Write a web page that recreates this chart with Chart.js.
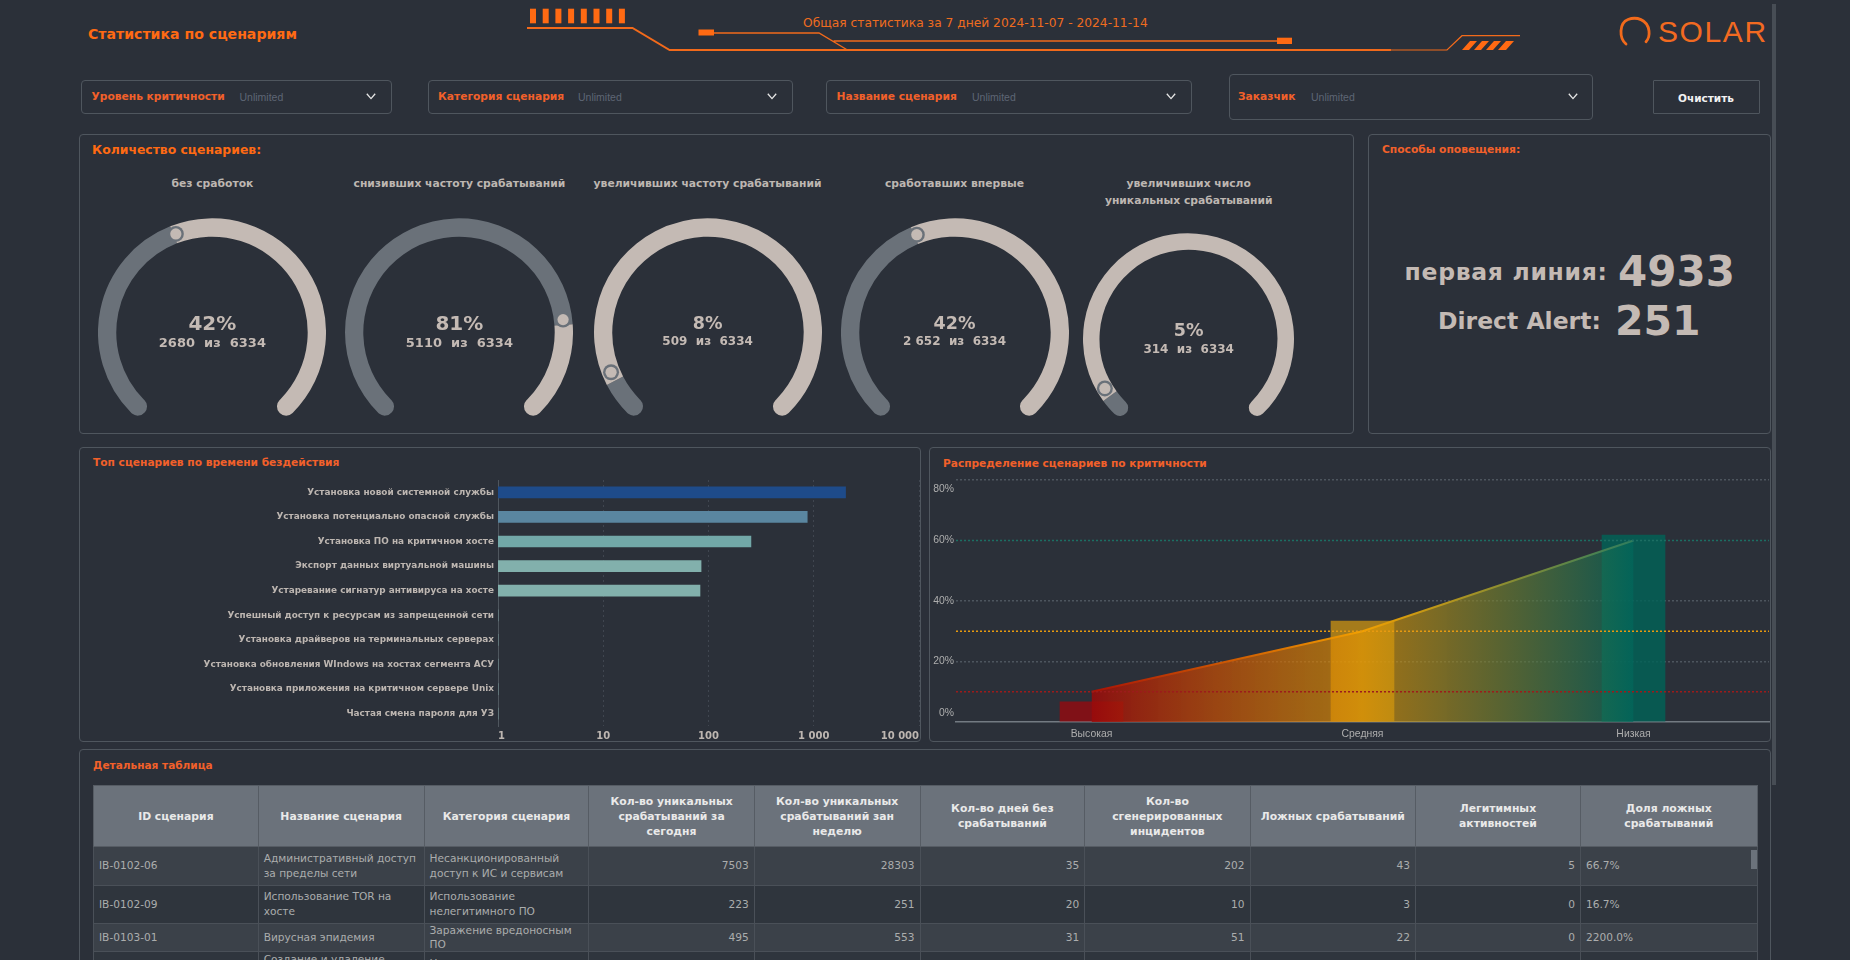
<!DOCTYPE html>
<html lang="ru"><head><meta charset="utf-8">
<script src="https://cdn.jsdelivr.net/npm/chart.js@4"></script>
<style>
html,body{margin:0;padding:0;width:1850px;height:960px;overflow:hidden;background:#2b3039}
#root{position:relative;width:1850px;height:960px;overflow:hidden;font-family:"DejaVu Sans",sans-serif}
.t{position:absolute;white-space:nowrap;line-height:1;transform:translateY(-50%)}
.c{transform:translate(-50%,-50%);text-align:center}
.b{position:absolute;box-sizing:border-box;border:1.5px solid #4f565e;border-radius:4px}
canvas{position:absolute}
table{position:absolute;left:93px;top:785px;width:1664px;border-collapse:collapse;table-layout:fixed;font-size:10.6px;color:#abadad}
th{background:#6b727b;color:#e9e9e9;font-weight:bold;font-size:10.8px;line-height:15px;border:1px solid #565c64;padding:0 4px;height:60px}
td{border:1px solid #4a5058;padding:0 5px;line-height:15px;vertical-align:middle;overflow:hidden}
</style></head><body><div id="root">
<svg width="1850" height="960" style="position:absolute;left:0;top:0" fill="none" stroke="#f26a1b">
<g fill="#ff6a13" stroke="none" id="ticksG"></g>
<path d="M527 28H632.5L669.6 50H1391" stroke-width="2"/><path d="M1391 50H1447L1462 35.7H1520" stroke-width="1.2"/>
<rect x="698.5" y="29.5" width="15.5" height="6" fill="#ff6a13" stroke="none"/>
<path d="M714 33H819L846.6 49.5M833.6 41H1277" stroke-width="1.4"/>
<rect x="1277" y="37.7" width="15" height="6.3" fill="#ff6a13" stroke="none"/>
<g fill="#ff6a13" stroke="none"><path d="M1462 50l8-9h7l-8 9zM1474 50l8-9h7l-8 9zM1486 50l8-9h7l-8 9zM1498 50l8-9h8l-8 9z"/></g>
<path d="M1626 44C1619 38 1619 23 1628 19.5C1636 16.5 1647.5 19 1649 31C1649.6 36 1648.5 39 1646 41.7" stroke-width="2.8" stroke-linecap="round"/>
<rect x="1772" y="4" width="4" height="781" fill="#474d55" stroke="none"/>
</svg>
</div>
<script>
/* ---------- data ---------- */
const gaugeTitles = [["без сработок"],["снизивших частоту срабатываний"],["увеличивших частоту срабатываний"],["сработавших впервые"],["увеличивших число","уникальных срабатываний"]];
const gaugeValues = [2680,5110,509,2652,314];
const gaugeTotal = 6334;
const gaugePercents = ["42%","81%","8%","42%","5%"];
const gaugeLabels = ["2680  из  6334","5110  из  6334","509  из  6334","2 652  из  6334","314  из  6334"];
const topNames = ["Установка новой системной службы","Установка потенциально опасной службы","Установка ПО на критичном хосте","Экспорт данных виртуальной машины","Устаревание сигнатур антивируса на хосте","Успешный доступ к ресурсам из запрещенной сети","Установка драйверов на терминальных серверах","Установка обновления WIndows на хостах сегмента АСУ","Установка приложения на критичном сервере Unix","Частая смена пароля для УЗ"];
const topValues = [2005,867,253,85,83,0,0,0,0,0];
const topColors = ["#1e4b8a","#5a86a0","#72a8a8","#82b0ac","#82b0ac","#82b0ac","#82b0ac","#82b0ac","#82b0ac","#82b0ac"];
const levelNames = ["Высокая","Средняя","Низкая"];
const levelBars = [6.7,33.4,61.8];
const levelLine = [10,30,60];
const levelTicks = [0,20,40,60,80];
const tableHead = ["ID сценария","Название сценария","Категория сценария","Кол-во уникальных срабатываний за сегодня","Кол-во уникальных срабатываний зан неделю","Кол-во дней без срабатываний","Кол-во сгенерированных инцидентов","Ложных срабатываний","Легитимных активностей","Доля ложных срабатываний"];
const tableRows = [
["IB-0102-06","Административный доступ за пределы сети","Несанкционированный доступ к ИС и сервисам",7503,28303,35,202,43,5,"66.7%"],
["IB-0102-09","Использование TOR на хосте","Использование нелегитимного ПО",223,251,20,10,3,0,"16.7%"],
["IB-0103-01","Вирусная эпидемия","Заражение вредоносным ПО",495,553,31,51,22,0,"2200.0%"],
["","Создание и удаление","Н","","","","","","",""]];
const filterNames = ["Уровень критичности","Категория сценария","Название сценария","Заказчик"];

/* ---------- helpers ---------- */
const root = document.getElementById('root');
const TAN='#c4bab4', GRAY='#6a7179', ORANGE='#ff6a13', RED='#f2602a', TXT='#bdb6b1';
function T(x,y,s,css,cls){const d=document.createElement('div');d.className='t '+(cls||'');d.style.cssText=`left:${x}px;top:${y}px;${css||''}`;d.textContent=s;root.appendChild(d);return d;}
function B(x,y,x2,y2,css){const d=document.createElement('div');d.className='b';d.style.cssText=`left:${x}px;top:${y}px;width:${x2-x}px;height:${y2-y}px;${css||''}`;root.appendChild(d);return d;}
function C(x,y,w,h){const c=document.createElement('canvas');c.width=w;c.height=h;c.style.cssText=`left:${x}px;top:${y}px;width:${w}px;height:${h}px`;root.appendChild(c);return c;}

const tg=document.getElementById('ticksG');
for(let i=0;i<8;i++){const r=document.createElementNS('http://www.w3.org/2000/svg','rect');r.setAttribute('x',530+i*12.7);r.setAttribute('y',8.7);r.setAttribute('width',6);r.setAttribute('height',14.6);tg.appendChild(r);}

/* ---------- header ---------- */
T(88,34,"Статистика по сценариям",`color:${ORANGE};font-weight:bold;font-size:14.1px`);
T(803,23,"Общая статистика за 7 дней 2024-11-07 - 2024-11-14",`color:#ef6c1f;font-size:12.25px`);
T(1658,32,"SOLAR",`color:#f26a21;font-family:"Liberation Sans";font-size:30px;letter-spacing:1.6px`);

/* ---------- filters ---------- */
const fx=[[81,392,91.5,239.5,371,80,114],[428,793,438,578,772,80,114],[826,1192,836.5,972,1171,80,114],[1229,1593,1238,1311,1573,74,120]];
fx.forEach((f,i)=>{B(f[0],f[5],f[1],f[6]);
 T(f[2],97,filterNames[i],`color:${RED};font-weight:bold;font-size:10.7px`);
 T(f[3],97,"Unlimited",`color:#5e6675;font-family:"Liberation Sans";font-size:10.5px`);
 root.insertAdjacentHTML('beforeend',`<svg style="position:absolute;left:${f[4]-5}px;top:93px" width="10" height="7" fill="none" stroke="#e6e6e6" stroke-width="1.3"><path d="M.8 .8L5 5.6L9.2 .8"/></svg>`);
});
B(1653,80,1760,114,'border-radius:1px');
T(1706,97.5,"Очистить",`color:#f2f2f2;font-weight:bold;font-size:10.5px`,'c');

/* ---------- panels ---------- */
B(79,134,1354,434);B(1368,134,1771,434);B(79,447,921,742);B(929,447,1771,742);B(79,749,1771,975);
T(92,150,"Количество сценариев:",`color:${ORANGE};font-weight:bold;font-size:12.4px`);
T(1382,150,"Способы оповещения:",`color:${RED};font-weight:bold;font-size:10.7px`);
T(93,463,"Топ сценариев по времени бездействия",`color:${RED};font-weight:bold;font-size:10.65px`);
T(943,463,"Распределение сценариев по критичности",`color:${RED};font-weight:bold;font-size:10.6px`);
T(93,765,"Детальная таблица",`color:${RED};font-weight:bold;font-size:10.55px`);
const big=`color:${TAN};font-weight:bold;`;
T(1404.6,273,"первая линия:",big+'font-size:23.5px;letter-spacing:.7px');
T(1618,272,"4933",big+'font-size:42px');
T(1438,322,"Direct Alert:",big+'font-size:23.5px');
T(1615,321,"251",big+'font-size:41px');

/* ---------- gauges ---------- */
const gaugePos=[[212.4,331.5,114,18.3,20,13,322.7,341.7],[459.4,331.5,114,18.3,20,13,322.7,341.7],[707.6,331.5,114,18.3,17.5,12,323.5,341],[954.5,331.5,114,18.3,17.5,12,323.5,341],[1188.7,338.4,105.4,16.5,17.5,12,330.5,348.5]];
const knob={id:'knob',afterDatasetsDraw(ch){const a=ch.getDatasetMeta(0).data[0];if(!a)return;const {x,y,endAngle,innerRadius,outerRadius}=a;
 const d=ch.data.datasets[0].data,f=d[0]/(d[0]+d[1]);
 const r=(innerRadius+outerRadius)/2,ang=endAngle+(6-11*f)*Math.PI/180,px=x+Math.cos(ang)*r,py=y+Math.sin(ang)*r,c=ch.ctx;
 c.save();c.fillStyle=GRAY;c.beginPath();c.arc(px,py,8,0,7);c.fill();c.fillStyle=TAN;c.beginPath();c.arc(px,py,5.6,0,7);c.fill();c.restore();}};
gaugeValues.forEach((v,i)=>{
 const [cx,cy,R,th,fs1,fs2,y1,y2]=gaugePos[i];
 const w=Math.ceil(2*R)+0,h=Math.ceil(R*(1+Math.cos(40*Math.PI/180)));
 const cv=C(cx-R,cy-R,w,h);
 const rad=th/2;
 new Chart(cv,{type:'doughnut',plugins:[knob],data:{datasets:[{data:[v,gaugeTotal-v],backgroundColor:[GRAY,TAN],borderWidth:0,
   borderRadius:[{outerStart:rad,innerStart:rad,outerEnd:0,innerEnd:0},{outerStart:0,innerStart:0,outerEnd:rad,innerEnd:rad}]}]},
  options:{responsive:false,animation:false,rotation:-140,circumference:280,cutout:(100*(1-th/R))+'%',layout:{padding:0},
   plugins:{legend:{display:false},tooltip:{enabled:false}},events:[]}});
 gaugeTitles[i].forEach((s,k)=>T(cx,184+k*16.8,s,`color:${TXT};font-weight:bold;font-size:10.75px`,'c'));
 T(cx,y1,gaugePercents[i],`color:${TAN};font-weight:bold;font-size:${fs1}px`,'c');
 T(cx,y2,gaugeLabels[i],`color:${TAN};font-weight:bold;font-size:${fs2}px;white-space:pre`,'c');
});

/* ---------- bar chart ---------- */
new Chart(C(80,470,842,272),{type:'bar',data:{labels:topNames,datasets:[{data:topValues,backgroundColor:topColors,borderWidth:0,barThickness:11}]},
 options:{indexAxis:'y',responsive:false,animation:false,events:[],layout:{padding:{top:10,right:3,left:0,bottom:0}},
  plugins:{legend:{display:false},tooltip:{enabled:false}},
  scales:{
   x:{type:'logarithmic',min:1,max:10000,afterFit(s){s.height=16;s.paddingLeft=0;s.paddingRight=0},
      afterBuildTicks(s){s.ticks=[1,10,100,1000,10000].map(v=>({value:v,major:true}))},
      border:{display:false,dash:[2,3]},
      grid:{color:'rgba(120,130,140,.28)',drawTicks:false,tickLength:0,lineWidth:1},
      ticks:{align:'inner',autoSkip:false,maxRotation:0,padding:4,color:TXT,font:{family:'DejaVu Sans',size:10,weight:'bold'},
        callback(v){return Number(v).toLocaleString('ru-RU').replace(/\s/g,' ')}}},
   y:{afterFit(s){s.width=418;s.paddingTop=0;s.paddingBottom=0},border:{display:true,color:'#4f565e',width:1},grid:{display:false,drawTicks:false,tickLength:0},
      ticks:{autoSkip:false,padding:4,color:TXT,font:{family:'DejaVu Sans',size:8.9,weight:'bold'}}}
  }}});

/* ---------- level chart ---------- */
function grad(ch,stops){const s=ch.scales.x;if(!s||!ch.chartArea)return stops[0][1];
 const g=ch.ctx.createLinearGradient(s.getPixelForValue(0),0,s.getPixelForValue(2),0);stops.forEach(a=>g.addColorStop(a[0],a[1]));return g;}
const markLines=[[10,'#9c1b1b'],[30,'#e79a10'],[60,'#1c6e63']];
const marks={id:'marks',afterDatasetsDraw(ch){const c=ch.ctx,a=ch.chartArea,y=ch.scales.y;c.save();c.lineWidth=1.4;c.setLineDash([2,2]);
 markLines.forEach(m=>{const p=y.getPixelForValue(m[0]);c.strokeStyle=m[1];c.beginPath();c.moveTo(a.left,p);c.lineTo(a.right,p);c.stroke();});c.restore();}};
new Chart(C(930,470,841,274),{type:'bar',plugins:[marks],data:{labels:levelNames,datasets:[
  {type:'line',order:1,data:levelLine,tension:0,pointRadius:0,borderWidth:2,fill:'origin',
   borderColor:c=>grad(c.chart,[[0,'#a81206'],[.5,'#f2a000'],[1,'#2f7d5e']]),
   backgroundColor:c=>grad(c.chart,[[0,'rgba(155,10,10,.85)'],[.5,'rgba(235,155,0,.62)'],[1,'rgba(0,105,92,.65)']])},
  {type:'bar',order:2,data:levelBars,barThickness:63,borderWidth:0,backgroundColor:['rgba(150,10,15,.8)','rgba(240,170,10,.62)','rgba(0,100,88,.8)']}
 ]},options:{responsive:false,animation:false,events:[],layout:{padding:{top:10,right:2,left:0,bottom:0}},
  plugins:{legend:{display:false},tooltip:{enabled:false},filler:{propagate:false}},
  scales:{
   x:{offset:true,afterFit(s){s.height=22;s.paddingLeft=0;s.paddingRight=0},border:{display:true,color:'#737a82',width:1.5},grid:{display:false,drawTicks:false,tickLength:0},
      ticks:{padding:6,color:'#aeaeae',font:{family:'Liberation Sans',size:10.4}}},
   y:{min:0,max:80,afterFit(s){s.width=26;s.paddingTop=0;s.paddingBottom=0},afterBuildTicks(s){s.ticks=levelTicks.map(v=>({value:v}))},border:{display:false,dash:[2,2]},
      grid:{drawTicks:false,tickLength:0,lineWidth:1.5,color:c=>c.tick&&(c.tick.value===60||c.tick.value===0)?'transparent':'rgba(120,130,140,.45)'},
      ticks:{padding:2,color:'#aeaeae',font:{family:'Liberation Sans',size:10.4,lineHeight:'18px'},
       callback(v){return v===80?['',v+'%']:v===0?[v+'%','']:v+'%'}}}
  }}});

/* ---------- table ---------- */
const cols=[164.7,165.9,164.8,165.3,165.9,164.7,165.3,165.4,165,176.6];
const rowH=[38.6,38.4,28.3,30];
const rowLine=[15,15,13.4,15];
let h='<table><colgroup>'+cols.map(w=>`<col style="width:${w}px">`).join('')+'</colgroup><thead><tr>'+tableHead.map(s=>`<th>${s}</th>`).join('')+'</tr></thead><tbody>';
tableRows.forEach((r,i)=>{h+=`<tr style="height:${rowH[i]}px;background:${i%2?'#2f353d':'#3b4149'}">`+r.map((v,k)=>`<td style="line-height:${rowLine[i]}px;${i===3?'vertical-align:top;padding-top:'+(k===2?4:0)+'px;':''}text-align:${k>=3&&k<=8?'right':'left'}">${v}</td>`).join('')+'</tr>';});
root.insertAdjacentHTML('beforeend',h+'</tbody></table>');
root.insertAdjacentHTML('beforeend','<div style="position:absolute;left:1751px;top:850px;width:5.5px;height:19px;background:#6b727b"></div>');
</script></body></html>
